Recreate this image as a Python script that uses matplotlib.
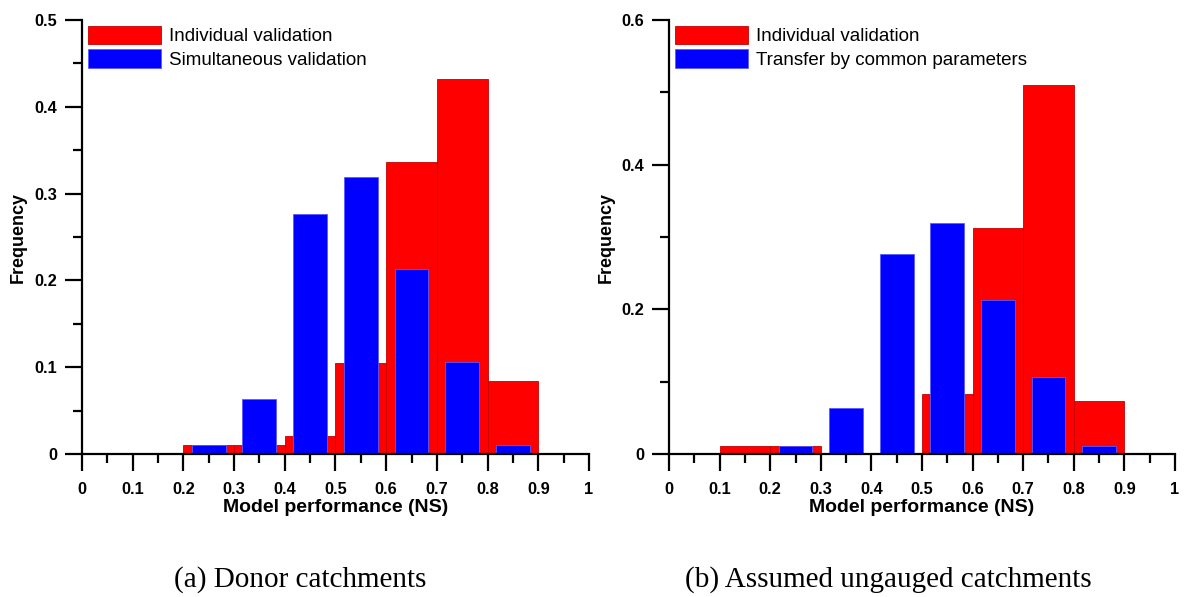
import matplotlib.pyplot as plt
from matplotlib.ticker import MultipleLocator, FuncFormatter

# bin left edges and frequencies (bin width 0.1)
bin_left = [0.1, 0.2, 0.3, 0.4, 0.5, 0.6, 0.7, 0.8]
bin_center = [0.15, 0.25, 0.35, 0.45, 0.55, 0.65, 0.75, 0.85]

# (a) donor catchments
donor_individual = [0.0, 0.0105, 0.0105, 0.0211, 0.1053, 0.3368, 0.4316, 0.0842]
donor_simultaneous = [0.0, 0.0106, 0.0638, 0.2766, 0.3191, 0.2128, 0.1064, 0.0106]

# (b) assumed ungauged catchments
ungauged_individual = [0.0104, 0.0104, 0.0, 0.0, 0.0833, 0.3125, 0.5104, 0.0729]
ungauged_transfer = [0.0, 0.0106, 0.0638, 0.2766, 0.3191, 0.2128, 0.1064, 0.0106]

RED = "#ff0000"
BLUE = "#0000ff"
SANS = ["Liberation Sans", "DejaVu Sans"]

fig = plt.figure(figsize=(11.86, 5.97), dpi=100)


def draw_panel(rect, red_vals, blue_vals, blue_label, ymax, ymajor, caption, cap_x):
    ax = fig.add_axes(rect)
    ax.bar(bin_left, red_vals, width=0.1, align="edge", color=RED,
           edgecolor="#c80000", linewidth=0.6, label="Individual validation", zorder=2)
    ax.bar(bin_center, blue_vals, width=0.067, color=BLUE,
           edgecolor="#5a5aff", linewidth=0.6, label=blue_label, zorder=3)

    ax.set_xlim(0, 1)
    ax.set_ylim(0, ymax)
    ax.xaxis.set_major_locator(MultipleLocator(0.1))
    ax.xaxis.set_minor_locator(MultipleLocator(0.05))
    ax.yaxis.set_major_locator(MultipleLocator(ymajor))
    ax.yaxis.set_minor_locator(MultipleLocator(ymajor / 2))
    fmt = FuncFormatter(lambda v, p: f"{v:.10g}")
    ax.xaxis.set_major_formatter(fmt)
    ax.yaxis.set_major_formatter(fmt)

    for side in ("top", "right"):
        ax.spines[side].set_visible(False)
    for side in ("left", "bottom"):
        ax.spines[side].set_linewidth(1.6)
        ax.spines[side].set_zorder(5)

    ax.tick_params(which="major", direction="out", length=12, width=1.6)
    ax.tick_params(which="minor", direction="out", length=6.5, width=1.6)
    ax.tick_params(axis="x", which="major", pad=8)
    ax.tick_params(axis="y", which="major", pad=6)
    for lab in ax.get_xticklabels() + ax.get_yticklabels():
        lab.set_fontfamily(SANS)
        lab.set_fontweight("bold")
        lab.set_fontsize(11.8)

    ax.set_xlabel("Model performance (NS)", fontsize=14, fontweight="bold",
                  family=SANS, labelpad=1.5)
    ax.set_ylabel("Frequency", fontsize=13, fontweight="bold", family=SANS, labelpad=5)

    ax.legend(loc="upper left", bbox_to_anchor=(0.0, 1.0), frameon=False,
              prop={"family": SANS, "size": 13.5}, handlelength=3.9, handleheight=1.15,
              handletextpad=0.42, labelspacing=0.2, borderpad=0.0, borderaxespad=0.3)

    fig.text(cap_x, 0.03, caption, ha="center", va="center",
             fontsize=21, family=["Liberation Serif", "DejaVu Serif"])
    return ax


draw_panel([0.0691, 0.2395, 0.4275, 0.727], donor_individual, donor_simultaneous,
           "Simultaneous validation", 0.5, 0.1, "(a) Donor catchments", 300 / 1186)
draw_panel([0.5641, 0.2395, 0.4266, 0.727], ungauged_individual, ungauged_transfer,
           "Transfer by common parameters", 0.6, 0.2, "(b) Assumed ungauged catchments",
           888 / 1186)

fig.savefig("out.png", dpi=100)
